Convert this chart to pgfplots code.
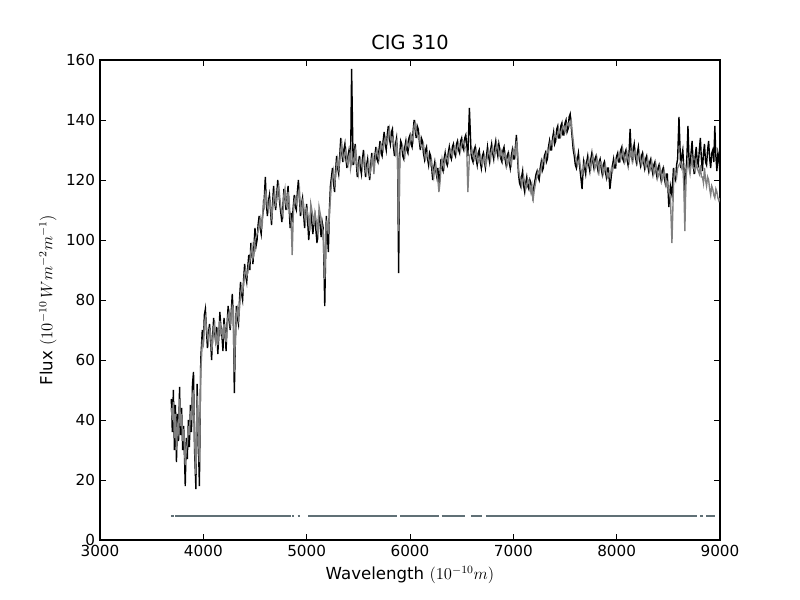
\documentclass[border=0pt]{standalone}
\usepackage{fontspec}
\setmainfont{DejaVu Sans}
\usepackage{pgfplots}
\usepackage{pgfplotstable}
\pgfplotsset{compat=1.18}
\definecolor{modgray}{gray}{0.5}
\definecolor{maskc}{RGB}{96,112,118}
\pgfplotstableread{
lam obs mod
3690 47 44
3700 36 40
3710 50 46
3720 30 34
3730 45 42
3740 26 30
3750 42 38
3760 33 36
3770 51 47
3780 35 38
3790 44 42
3800 30 33
3810 38 37
3825 18 25
3835 34 30
3845 27 32
3855 40 38
3865 31 35
3875 45 43
3885 36 40
3895 52 48
3905 56 50
3915 30 34
3928 17 22
3940 52 48
3950 35 38
3962 18 26
3975 60 56
3990 70 66
4000 66 65
4010 75 72
4020 77 74
4030 70 71
4040 64 68
4050 69 66
4060 72 70
4070 67 69
4080 60 63
4090 68 66
4100 74 71
4110 69 72
4120 66 66
4130 71 68
4140 62 65
4150 68 70
4160 76 73
4170 71 69
4180 68 70
4190 63 67
4200 74 72
4210 70 69
4220 63 66
4230 72 70
4240 78 75
4250 73 76
4260 70 72
4270 76 74
4280 82 78
4290 75 77
4300 49 56
4310 66 68
4320 78 75
4330 74 77
4340 72 74
4350 80 77
4360 86 82
4370 82 84
4380 80 83
4390 87 85
4400 92 89
4410 88 90
4420 86 88
4430 91 89
4440 95 92
4450 90 93
4460 99 96
4470 96 98
4480 92 94
4490 98 95
4500 104 100
4510 98 101
4520 100 102
4530 105 103
4540 108 105
4550 104 107
4560 102 104
4570 107 105
4580 110 112
4590 114 111
4600 121 116
4610 112 115
4620 108 111
4630 113 110
4640 115 113
4650 110 112
4660 105 108
4670 112 110
4680 118 114
4690 113 116
4700 110 112
4710 115 113
4720 120 117
4730 116 118
4740 112 114
4750 109 111
4760 106 109
4770 111 108
4780 117 115
4790 114 117
4800 110 112
4810 114 111
4820 118 116
4830 111 113
4840 104 108
4850 109 106
4860 106 95
4870 111 108
4880 115 113
4890 111 114
4900 110 112
4910 116 113
4920 120 116
4930 114 117
4940 108 110
4950 112 109
4960 114 113
4970 109 112
4980 104 108
4990 108 106
5000 112 110
5010 106 109
5020 100 106
5030 105 103
5040 110 112
5050 106 110
5060 102 108
5070 106 105
5080 108 109
5090 103 107
5100 99 104
5110 105 102
5120 110 111
5130 105 109
5140 101 107
5150 106 104
5160 104 103
5175 78 87
5190 108 106
5200 102 105
5210 96 102
5220 110 108
5230 118 114
5240 121 119
5250 124 121
5260 119 123
5270 116 119
5280 123 121
5290 128 125
5300 124 127
5310 122 124
5320 128 126
5330 134 130
5340 129 132
5350 126 128
5360 130 127
5370 132 129
5380 127 130
5390 124 126
5400 128 125
5410 130 128
5420 127 129
5425 126 124
5435 157 126
5450 125 127
5460 129 126
5470 132 130
5480 126 128
5490 121 124
5500 125 122
5510 128 126
5520 124 127
5530 122 125
5540 127 124
5550 130 127
5560 125 128
5570 121 123
5580 125 122
5590 127 125
5600 123 126
5610 120 122
5620 125 123
5630 129 127
5640 126 128
5650 124 122
5660 128 126
5670 131 129
5680 127 130
5690 126 128
5700 130 127
5710 133 130
5720 129 132
5730 128 131
5740 133 130
5750 136 133
5760 132 134
5770 130 132
5780 135 132
5790 138 135
5800 134 137
5810 132 134
5820 136 133
5830 137 134
5840 131 133
5850 128 131
5860 132 129
5870 134 132
5880 127 129
5890 89 103
5900 128 127
5910 133 130
5920 132 130
5930 128 131
5940 127 129
5950 131 128
5960 133 131
5970 130 133
5980 129 132
5990 134 131
6000 135 133
6010 132 135
6020 131 134
6030 136 133
6040 140 138
6050 137 139
6060 134 136
6070 138 135
6080 137 134
6090 133 135
6100 130 132
6110 134 131
6120 133 131
6130 129 132
6140 127 129
6150 130 127
6160 131 128
6170 127 129
6180 125 127
6190 129 126
6200 128 125
6210 124 126
6220 120 123
6230 124 121
6240 126 124
6250 123 125
6260 121 122
6270 124 120
6280 118 116
6290 122 119
6300 127 124
6310 124 127
6320 123 125
6330 127 124
6340 129 127
6350 126 128
6360 125 127
6370 129 126
6380 131 129
6390 128 130
6400 127 129
6410 131 128
6420 132 130
6430 129 131
6440 128 130
6450 132 129
6460 133 131
6470 130 132
6480 129 131
6490 133 130
6500 134 132
6510 131 133
6520 130 133
6530 134 131
6540 135 131
6550 131 129
6560 128 116
6575 144 128
6590 130 129
6600 127 130
6610 126 128
6620 130 127
6630 131 129
6640 127 130
6650 125 127
6660 129 126
6670 130 127
6680 126 128
6690 124 126
6700 128 125
6710 129 127
6720 126 128
6730 124 125
6740 128 126
6750 131 128
6760 128 130
6770 126 129
6780 130 127
6790 132 130
6800 129 131
6810 127 129
6820 131 128
6830 133 130
6840 130 132
6850 128 131
6860 132 129
6870 130 128
6880 127 130
6890 126 129
6900 130 127
6910 131 128
6920 127 129
6930 125 127
6940 128 125
6950 129 126
6960 126 128
6970 124 126
6980 128 125
6990 130 128
7000 127 130
7010 127 129
7020 131 128
7030 135 133
7040 128 130
7050 122 124
7060 119 121
7070 118 121
7080 121 118
7090 123 120
7100 118 121
7110 116 119
7120 119 117
7130 121 118
7140 118 120
7150 117 120
7160 120 118
7170 119 116
7180 116 118
7190 114 113
7200 118 116
7210 120 118
7220 122 120
7230 123 121
7240 121 123
7250 120 123
7260 124 122
7270 126 124
7280 123 126
7290 124 127
7300 128 126
7310 129 127
7320 126 129
7330 127 130
7340 131 129
7350 133 131
7360 130 133
7370 130 133
7380 134 132
7390 136 134
7400 132 135
7410 133 135
7420 137 134
7430 138 135
7440 134 137
7450 134 136
7460 138 135
7470 139 137
7480 135 138
7490 135 138
7500 139 136
7510 140 137
7520 136 139
7530 137 139
7540 141 138
7550 142 139
7560 138 140
7570 134 136
7580 130 133
7590 128 130
7600 125 128
7610 124 127
7620 127 125
7630 129 126
7640 125 127
7650 122 124
7665 117 122
7680 126 124
7690 124 126
7700 122 125
7710 126 124
7720 128 126
7730 125 127
7740 123 125
7750 127 124
7760 129 127
7770 126 128
7780 124 126
7790 127 124
7800 128 125
7810 125 127
7820 123 125
7830 126 123
7840 127 126
7850 124 126
7860 122 124
7870 125 122
7880 126 123
7890 123 125
7900 121 123
7910 124 121
7920 124 122
7935 117 121
7950 122 124
7960 125 123
7970 127 125
7980 124 126
7990 124 127
8000 128 126
8010 129 127
8020 126 128
8030 126 129
8040 130 127
8050 131 128
8060 127 130
8070 126 128
8080 129 126
8090 130 127
8100 127 129
8110 125 127
8120 129 126
8130 137 129
8140 130 128
8150 127 130
8160 130 127
8170 132 129
8180 128 130
8190 126 128
8200 129 126
8210 131 128
8220 127 129
8230 125 127
8240 128 125
8250 129 126
8260 126 128
8270 124 126
8280 127 124
8290 128 125
8300 125 127
8310 123 125
8320 126 123
8330 127 124
8340 124 126
8350 122 124
8360 125 122
8370 126 123
8380 123 125
8390 121 123
8400 124 121
8410 125 122
8420 122 124
8430 120 122
8440 123 120
8450 124 121
8460 121 123
8470 119 121
8480 122 118
8490 122 119
8505 111 116
8520 118 114
8535 115 99
8550 124 118
8560 121 123
8570 120 122
8580 125 121
8590 127 124
8603 141 125
8620 124 126
8630 128 124
8640 130 125
8650 124 118
8660 112 103
8670 122 120
8680 128 124
8690 138 126
8700 127 124
8710 124 122
8720 129 125
8730 133 127
8740 126 124
8750 122 124
8760 128 123
8770 131 126
8780 126 124
8790 125 123
8800 130 122
8810 134 125
8820 127 121
8830 123 121
8840 129 119
8850 132 124
8860 126 120
8870 125 118
8880 130 121
8890 133 120
8900 127 117
8910 124 115
8920 129 118
8930 130 117
8940 126 115
8950 138 114
8960 128 117
8970 123 116
8980 129 114
8990 127 113
9000 122 114
}\spec
\begin{document}
\begin{tikzpicture}
\path[use as bounding box] (-1in,-0.6in) rectangle (7in,5.4in);
\begin{axis}[
  at={(0,0)}, anchor=south west,
  scale only axis, width=6.2in, height=4.8in,
  xmin=3000, xmax=9000, ymin=0, ymax=160,
  xtick={3000,4000,...,9000}, ytick={0,20,...,160},
  minor tick num=0,
  tick align=inside, major tick length=4pt,
  xtick pos=both, ytick pos=both,
  xticklabel pos=lower, yticklabel pos=left,
  scaled x ticks=false,
  xticklabel style={/pgf/number format/1000 sep={}},
  /pgf/number format/assume math mode=true,
  tick label style={font=\fontsize{11}{13}\selectfont},
  label style={font=\fontsize{12}{14}\selectfont},
  title style={font=\fontsize{14}{16}\selectfont, yshift=-2pt},
  title={CIG 310},
  xlabel={Wavelength $(10^{-10}m)$},
  ylabel={Flux $(10^{-10}\,Wm^{-2}m^{-1})$},
  axis line style={line width=0.8pt},
  tick style={line width=0.6pt, black},
  unbounded coords=jump,
  clip=true,
]
\addplot[black, line width=1pt] table[x=lam, y=obs] {\spec};
\addplot[modgray, line width=1pt] table[x=lam, y=mod] {\spec};
\addplot[maskc, line width=1.2pt] coordinates {
(3687,8) (3716,8) (3716,nan)
(3726,8) (4845,8) (4845,nan)
(4861,8) (4880,8) (4880,nan)
(4913,8) (4938,8) (4938,nan)
(5013,8) (5877,8) (5877,nan)
(5903,8) (6285,8) (6285,nan)
(6307,8) (6532,8) (6532,nan)
(6590,8) (6697,8) (6697,nan)
(6735,8) (8780,8) (8780,nan)
(8806,8) (8832,8) (8832,nan)
(8865,8) (8955,8)
};
\end{axis}
\end{tikzpicture}
\end{document}
